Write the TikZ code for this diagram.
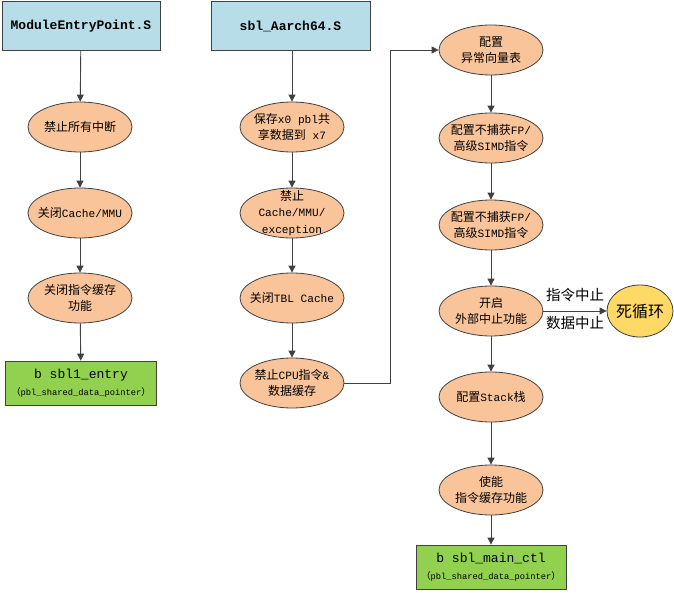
\documentclass[tikz,border=0pt]{standalone}
\usepackage{fontspec}
\setmainfont{Liberation Mono}[Scale=0.93]
\newfontfamily\cjk{Noto Sans CJK SC}
\usetikzlibrary{shapes.geometric,arrows.meta}
\newcommand{\zh}[1]{{\cjk #1}}
\definecolor{boxblue}{RGB}{183,221,232}
\definecolor{peach}{RGB}{249,196,154}
\definecolor{lgreen}{RGB}{146,208,80}
\definecolor{yel}{RGB}{255,217,102}
\definecolor{edge}{RGB}{64,64,64}
\tikzset{
  filebox/.style={draw=edge, fill=boxblue, line width=0.8pt, minimum width=158pt, minimum height=49pt, inner sep=0pt, font=\fontsize{14}{15}\selectfont\bfseries},
  stepell/.style={ellipse, draw=edge, fill=peach, line width=0.8pt, minimum width=104pt, minimum height=50pt, inner sep=-14pt, align=center, font=\fontsize{12}{16.5}\selectfont},
  jumpbox/.style={draw=edge, fill=lgreen, line width=0.8pt, minimum width=151pt, minimum height=44pt, inner sep=0pt, align=center, font=\fontsize{14}{17}\selectfont},
  loopell/.style={ellipse, draw=edge, fill=yel, line width=0.8pt, minimum width=66pt, minimum height=52pt, inner sep=-10pt, font=\fontsize{16}{18}\selectfont\cjk},
  flow/.style={draw=edge, line width=0.9pt, -{Triangle[length=7pt,width=7pt]}},
  lbl/.style={font=\fontsize{14.5}{16}\selectfont\cjk, inner sep=0pt}
}
\newcommand{\smallp}[1]{{\fontsize{9.4}{10}\selectfont\zh{（}#1\zh{）}}}
\begin{document}
\begin{tikzpicture}[x=1pt,y=-1pt]
\useasboundingbox (0,0) rectangle (674,593);
% left column
\node[filebox] (f1) at (81,26) {ModuleEntryPoint.S};
\node[stepell] (a1) at (80,127) {\zh{禁止所有中断}};
\node[stepell] (a2) at (80,213) {\zh{关闭}Cache/MMU};
\node[stepell] (a3) at (80,298) {\zh{关闭指令缓存}\\\zh{功能}};
\node[jumpbox] (g1) at (81,383) {b sbl1\_entry\\\smallp{pbl\_shared\_data\_pointer}};
% middle column
\node[filebox, minimum width=159pt] (f2) at (290.5,26) {sbl\_Aarch64.S};
\node[stepell] (b1) at (292,127) {\zh{保存}x0 pbl\zh{共}\\\zh{享数据到} x7};
\node[stepell] (b2) at (292,213) {\zh{禁止}\\Cache/MMU/\\exception};
\node[stepell] (b3) at (292,298) {\zh{关闭}TBL Cache};
\node[stepell] (b4) at (292,383) {\zh{禁止}CPU\zh{指令}\&\\\zh{数据缓存}};
% right column
\node[stepell] (c1) at (491,50) {\zh{配置}\\\zh{异常向量表}};
\node[stepell] (c2) at (491,138) {\zh{配置不捕获}FP/\\\zh{高级}SIMD\zh{指令}};
\node[stepell] (c3) at (491,225) {\zh{配置不捕获}FP/\\\zh{高级}SIMD\zh{指令}};
\node[stepell] (c4) at (491,311) {\zh{开启}\\\zh{外部中止功能}};
\node[loopell] (dl) at (640,311) {死循环};
\node[stepell] (c5) at (491,397) {\zh{配置}Stack\zh{栈}};
\node[stepell] (c6) at (491,490) {\zh{使能}\\\zh{指令缓存功能}};
\node[jumpbox, minimum width=150pt] (g2) at (491,567) {b sbl\_main\_ctl\\\smallp{pbl\_shared\_data\_pointer}};
\coordinate (turn) at (390,383);
% connectors
\draw[flow] (f1) -- (a1);
\draw[flow] (a1) -- (a2);
\draw[flow] (a2) -- (a3);
\draw[flow] (a3) -- (g1);
\draw[flow] (f2.south -| b1) -- (b1);
\draw[flow] (b1) -- (b2);
\draw[flow] (b2) -- (b3);
\draw[flow] (b3) -- (b4);
\draw[flow] (b4.east) -- (turn) |- (c1.west);
\draw[flow] (c1) -- (c2);
\draw[flow] (c2) -- (c3);
\draw[flow] (c3) -- (c4);
\draw[flow] (c4) -- (c5);
\draw[flow] (c5) -- (c6);
\draw[flow] (c6) -- (g2);
\draw[flow] (c4.east) -- node[lbl, above=9pt] {指令中止} node[lbl, below=5pt] {数据中止} (dl.west);
\end{tikzpicture}
\end{document}
